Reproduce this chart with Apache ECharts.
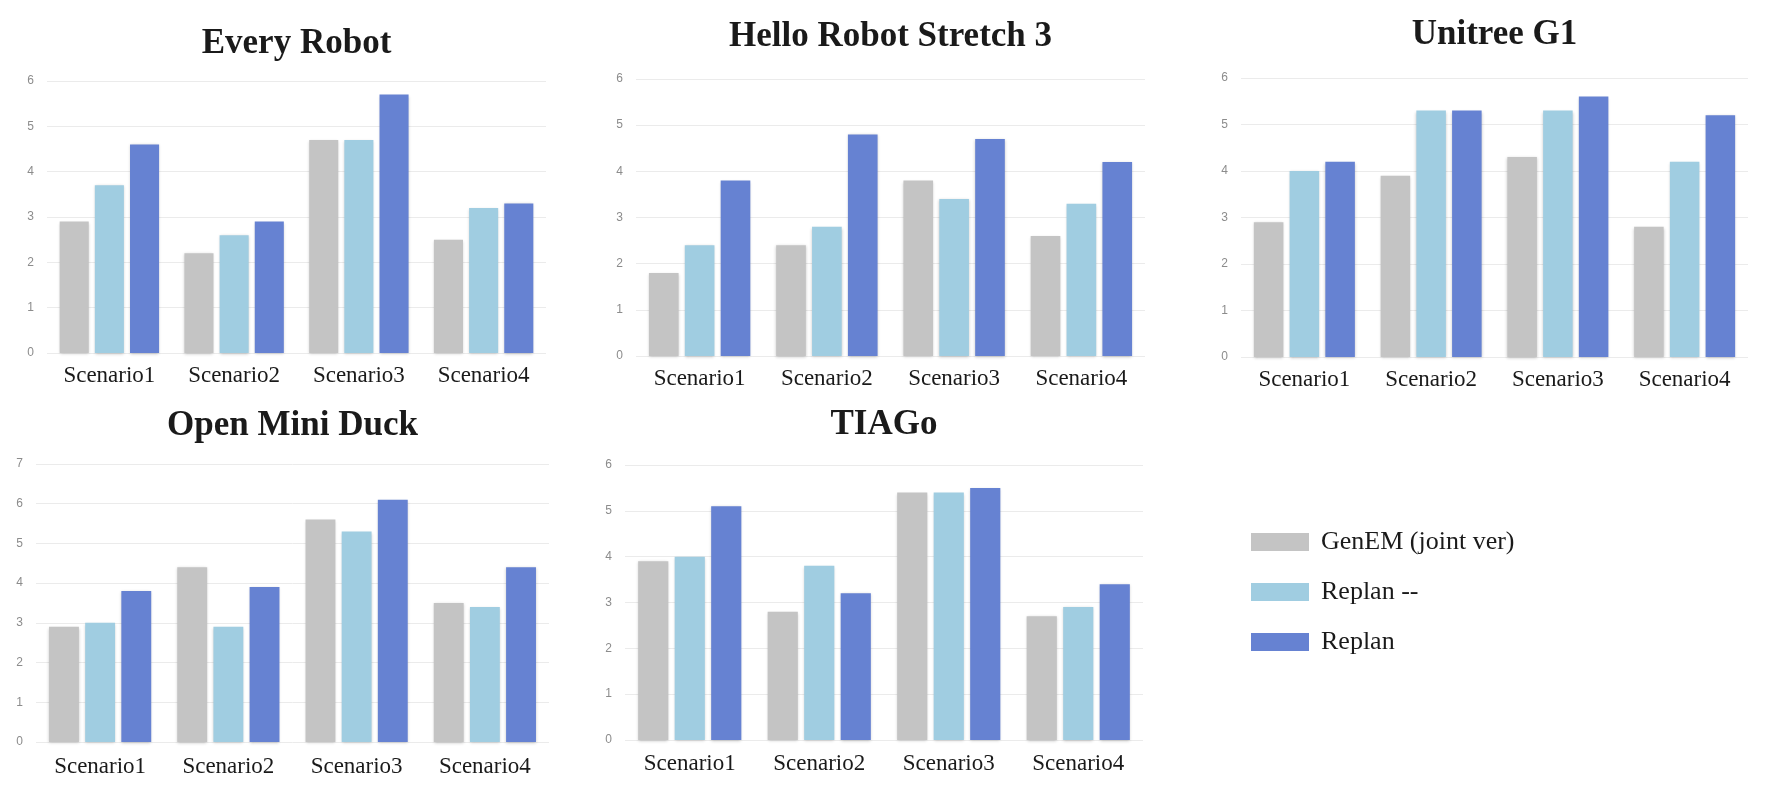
<!DOCTYPE html>
<html>
<head>
<meta charset="utf-8">
<script src="https://cdn.jsdelivr.net/npm/echarts@6/dist/echarts.min.js"></script>
<style>
  html, body { margin: 0; padding: 0; background: #ffffff; }
  #chart { width: 1791px; height: 796px; }
</style>
</head>
<body>
<div id="chart"></div>
<script>
// ---------- DATA ----------
const categories = ['Scenario1', 'Scenario2', 'Scenario3', 'Scenario4'];
const seriesNames = ['GenEM (joint ver)', 'Replan --', 'Replan'];
const robotTitles = ['Every Robot', 'Hello Robot Stretch 3', 'Unitree G1', 'Open Mini Duck', 'TIAGo'];
const yAxisMax = [6, 6, 6, 7, 6];

const everyRobotGenEM      = [2.9, 2.2, 4.7, 2.5];
const everyRobotReplanDash = [3.7, 2.6, 4.7, 3.2];
const everyRobotReplan     = [4.6, 2.9, 5.7, 3.3];

const stretchGenEM      = [1.8, 2.4, 3.8, 2.6];
const stretchReplanDash = [2.4, 2.8, 3.4, 3.3];
const stretchReplan     = [3.8, 4.8, 4.7, 4.2];

const unitreeGenEM      = [2.9, 3.9, 4.3, 2.8];
const unitreeReplanDash = [4.0, 5.3, 5.3, 4.2];
const unitreeReplan     = [4.2, 5.3, 5.6, 5.2];

const duckGenEM      = [2.9, 4.4, 5.6, 3.5];
const duckReplanDash = [3.0, 2.9, 5.3, 3.4];
const duckReplan     = [3.8, 3.9, 6.1, 4.4];

const tiagoGenEM      = [3.9, 2.8, 5.4, 2.7];
const tiagoReplanDash = [4.0, 3.8, 5.4, 2.9];
const tiagoReplan     = [5.1, 3.2, 5.5, 3.4];

const robotData = [
  [everyRobotGenEM, everyRobotReplanDash, everyRobotReplan],
  [stretchGenEM, stretchReplanDash, stretchReplan],
  [unitreeGenEM, unitreeReplanDash, unitreeReplan],
  [duckGenEM, duckReplanDash, duckReplan],
  [tiagoGenEM, tiagoReplanDash, tiagoReplan]
];

// ---------- LAYOUT / STYLE ----------
const colors = ['#c4c4c4', '#a0cde1', '#6682d2'];
const grids = [
  { left: 47,   top: 81,  width: 499, height: 272, titleY: 44,  labelMargin: 11 },
  { left: 636,  top: 79,  width: 509, height: 277, titleY: 37,  labelMargin: 11 },
  { left: 1241, top: 78,  width: 507, height: 279, titleY: 35,  labelMargin: 11 },
  { left: 36,   top: 464, width: 513, height: 278, titleY: 426, labelMargin: 13 },
  { left: 625,  top: 465, width: 518, height: 275, titleY: 425, labelMargin: 12 }
];
const serif = "'Liberation Serif', 'DejaVu Serif', serif";
const titleSize = 35;

const option = {
  animation: false,
  backgroundColor: '#ffffff',
  color: colors,
  title: robotTitles.map((t, i) => ({
    text: t,
    left: grids[i].left + grids[i].width / 2,
    top: grids[i].titleY - titleSize / 2,
    textAlign: 'center',
    padding: 0,
    textStyle: { fontFamily: serif, fontWeight: 'bold', fontSize: titleSize, color: '#1a1a1a' }
  })),
  legend: {
    orient: 'vertical',
    left: 1251,
    top: 529,
    padding: 0,
    itemGap: 24,
    itemWidth: 58,
    itemHeight: 18,
    icon: 'rect',
    data: seriesNames,
    textStyle: { fontFamily: serif, fontSize: 26, lineHeight: 26, color: '#1a1a1a', padding: [0, 0, 0, 7] }
  },
  grid: grids.map(g => ({ left: g.left, top: g.top, width: g.width, height: g.height, containLabel: false })),
  xAxis: grids.map((g, i) => ({
    type: 'category',
    gridIndex: i,
    data: categories,
    axisLine: { show: false },
    axisTick: { show: false },
    axisLabel: { fontFamily: serif, fontSize: 23, color: '#1a1a1a', margin: g.labelMargin }
  })),
  yAxis: grids.map((g, i) => ({
    type: 'value',
    gridIndex: i,
    min: 0,
    max: yAxisMax[i],
    interval: 1,
    axisLine: { show: false },
    axisTick: { show: false },
    axisLabel: { fontFamily: "'Liberation Sans', Arial, sans-serif", fontSize: 12, color: '#8c8c8c', margin: 13 },
    splitLine: { lineStyle: { color: '#ebebeb', width: 1 } }
  })),
  series: []
};

robotData.forEach((sets, gi) => {
  sets.forEach((vals, si) => {
    option.series.push({
      type: 'bar',
      name: seriesNames[si],
      xAxisIndex: gi,
      yAxisIndex: gi,
      data: vals,
      barWidth: '23.3%',
      barGap: '21%',
      itemStyle: {
        color: colors[si],
        shadowBlur: 3,
        shadowColor: 'rgba(0,0,0,0.22)',
        shadowOffsetY: 1
      }
    });
  });
});

const chart = echarts.init(document.getElementById('chart'), null, { renderer: 'canvas' });
chart.setOption(option);
</script>
</body>
</html>
